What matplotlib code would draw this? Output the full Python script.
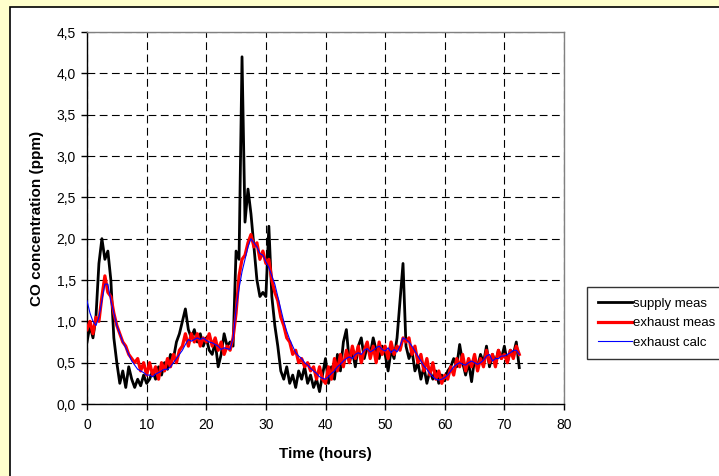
import numpy as np
import matplotlib
matplotlib.use("Agg")
import matplotlib.pyplot as plt
from matplotlib.patches import Rectangle
from matplotlib.ticker import FuncFormatter

plt.rcParams['font.family'] = ['Liberation Sans', 'DejaVu Sans']

# readings every half hour, starting at t = 0
step_h = 0.5
supply_meas = [
    0.75, 0.95, 0.80, 1.05, 1.70, 2.00, 1.75, 1.85, 1.50, 0.80,
    0.50, 0.25, 0.40, 0.20, 0.45, 0.30, 0.20, 0.30, 0.22, 0.35,
    0.25, 0.30, 0.40, 0.30, 0.45, 0.35, 0.50, 0.42, 0.60, 0.55,
    0.75, 0.85, 1.00, 1.15, 0.90, 0.80, 0.90, 0.75, 0.85, 0.70,
    0.80, 0.65, 0.60, 0.75, 0.45, 0.60, 0.85, 0.70, 0.75, 0.70,
    1.85, 1.75, 4.20, 2.20, 2.60, 2.30, 1.90, 1.50, 1.30, 1.35,
    1.30, 2.15, 1.30, 0.95, 0.70, 0.40, 0.30, 0.45, 0.25, 0.35,
    0.20, 0.40, 0.30, 0.45, 0.25, 0.35, 0.20, 0.30, 0.15, 0.35,
    0.55, 0.25, 0.45, 0.30, 0.60, 0.40, 0.75, 0.90, 0.50, 0.65,
    0.45, 0.70, 0.80, 0.55, 0.70, 0.60, 0.80, 0.65, 0.55, 0.70,
    0.60, 0.40, 0.65, 0.55, 0.80, 1.25, 1.70, 0.70, 0.55, 0.65,
    0.40, 0.50, 0.30, 0.45, 0.25, 0.40, 0.30, 0.40, 0.25, 0.35,
    0.28, 0.40, 0.45, 0.55, 0.45, 0.72, 0.50, 0.35, 0.50, 0.27,
    0.55, 0.45, 0.60, 0.50, 0.70, 0.45, 0.60, 0.50, 0.65, 0.55,
    0.70, 0.50, 0.65, 0.60, 0.75, 0.44,
]
exhaust_meas = [
    0.90, 1.00, 0.85, 1.05, 1.00, 1.30, 1.55, 1.35, 1.30, 1.10,
    0.95, 0.85, 0.75, 0.70, 0.60, 0.55, 0.50, 0.55, 0.40, 0.50,
    0.35, 0.50, 0.35, 0.45, 0.30, 0.50, 0.40, 0.55, 0.45, 0.60,
    0.50, 0.65, 0.70, 0.85, 0.70, 0.85, 0.75, 0.85, 0.70, 0.80,
    0.75, 0.85, 0.70, 0.80, 0.65, 0.75, 0.60, 0.70, 0.65, 0.80,
    1.10, 1.55, 1.75, 1.80, 1.95, 2.05, 1.90, 1.95, 1.75, 1.85,
    1.70, 1.75, 1.50, 1.35, 1.25, 1.05, 0.95, 0.80, 0.75, 0.60,
    0.65, 0.50, 0.55, 0.45, 0.50, 0.40, 0.45, 0.30, 0.45, 0.30,
    0.25, 0.45, 0.30, 0.55, 0.40, 0.60, 0.45, 0.65, 0.50, 0.70,
    0.55, 0.70, 0.50, 0.65, 0.75, 0.55, 0.70, 0.50, 0.75, 0.60,
    0.70, 0.55, 0.75, 0.60, 0.70, 0.65, 0.80, 0.75, 0.80, 0.60,
    0.70, 0.50, 0.60, 0.40, 0.55, 0.35, 0.50, 0.30, 0.40, 0.25,
    0.35, 0.30, 0.45, 0.35, 0.55, 0.45, 0.60, 0.40, 0.55, 0.45,
    0.60, 0.40, 0.55, 0.45, 0.65, 0.50, 0.60, 0.45, 0.65, 0.55,
    0.60, 0.50, 0.65, 0.55, 0.70, 0.60,
]
exhaust_calc = [
    1.25, 1.10, 1.00, 0.95, 1.05, 1.25, 1.45, 1.45, 1.25, 1.10,
    0.95, 0.85, 0.75, 0.68, 0.60, 0.52, 0.47, 0.42, 0.40, 0.38,
    0.35, 0.35, 0.33, 0.36, 0.38, 0.40, 0.42, 0.42, 0.45, 0.50,
    0.55, 0.60, 0.65, 0.72, 0.78, 0.76, 0.78, 0.80, 0.78, 0.80,
    0.77, 0.75, 0.74, 0.72, 0.70, 0.66, 0.68, 0.67, 0.66, 0.80,
    1.15, 1.40, 1.60, 1.75, 1.90, 2.00, 1.95, 1.90, 1.82, 1.80,
    1.72, 1.65, 1.55, 1.45, 1.30, 1.15, 1.00, 0.88, 0.78, 0.70,
    0.62, 0.58, 0.55, 0.50, 0.47, 0.43, 0.40, 0.37, 0.33, 0.31,
    0.30, 0.33, 0.37, 0.40, 0.45, 0.48, 0.52, 0.55, 0.57, 0.55,
    0.60, 0.62, 0.60, 0.65, 0.67, 0.63, 0.65, 0.68, 0.70, 0.66,
    0.64, 0.68, 0.62, 0.66, 0.63, 0.70, 0.80, 0.78, 0.75, 0.70,
    0.64, 0.58, 0.52, 0.46, 0.42, 0.37, 0.33, 0.30, 0.29, 0.30,
    0.32, 0.35, 0.40, 0.45, 0.48, 0.50, 0.48, 0.47, 0.50, 0.52,
    0.50, 0.48, 0.50, 0.53, 0.58, 0.60, 0.52, 0.55, 0.55, 0.58,
    0.58, 0.60, 0.62, 0.65, 0.65, 0.60,
]
x_ticks = [0, 10, 20, 30, 40, 50, 60, 70, 80]
y_ticks = [0.0, 0.5, 1.0, 1.5, 2.0, 2.5, 3.0, 3.5, 4.0, 4.5]

W, H = 719, 476
fig = plt.figure(figsize=(W / 100, H / 100), dpi=100)
fig.patch.set_facecolor('#FFFFCC')

# white chart panel with black border (runs off the right and bottom edges)
panel = Rectangle((10 / W, -0.05), 1.0, 1 - 7 / H + 0.05, transform=fig.transFigure,
                  facecolor='white', edgecolor='black', linewidth=1.2, zorder=-10)
fig.patches.append(panel)

ax = fig.add_axes([87 / W, (H - 404) / H, 477 / W, 372 / H])
ax.set_zorder(1)
ax.set_facecolor('white')

t_s = np.arange(len(supply_meas)) * step_h
t_e = np.arange(len(exhaust_meas)) * step_h
t_c = np.arange(len(exhaust_calc)) * step_h

ax.plot(t_s, supply_meas, color='black', lw=2.0, label='supply meas', zorder=3)
ax.plot(t_e, exhaust_meas, color='#FF0000', lw=2.3, label='exhaust meas', zorder=4)
ax.plot(t_c, exhaust_calc, color='#0000FF', lw=0.8, label='exhaust calc', zorder=5)

ax.set_xlim(0, 80)
ax.set_ylim(0, 4.5)
ax.set_xticks(x_ticks)
ax.set_yticks(y_ticks)
ax.yaxis.set_major_formatter(FuncFormatter(lambda v, p: f"{v:.1f}".replace('.', ',')))
ax.grid(True, color='black', lw=0.8, linestyle=(0, (7, 4)), zorder=1)
ax.set_axisbelow(True)

for s in ['top', 'right']:
    ax.spines[s].set_color('#808080')
    ax.spines[s].set_linewidth(1.0)
for s in ['left', 'bottom']:
    ax.spines[s].set_color('black')
    ax.spines[s].set_linewidth(1.0)
ax.tick_params(direction='out', length=4, width=1, labelsize=10)
ax.tick_params(axis='x', pad=6)
ax.tick_params(axis='y', pad=4)

ax.set_xlabel('Time (hours)', fontsize=11, fontweight='bold')
ax.set_ylabel('CO concentration (ppm)', fontsize=11, fontweight='bold')
ax.xaxis.set_label_coords(0.5, (404 - 447) / 372)
ax.yaxis.set_label_coords((44 - 87) / 477, 0.5)

leg = ax.legend(loc='upper left', bbox_to_anchor=(587 / W, 1 - 287 / H),
                bbox_transform=fig.transFigure, fontsize=9.5, frameon=True,
                fancybox=False, edgecolor='black', handlelength=2.6,
                handletextpad=0.1, borderpad=0.8, labelspacing=0.55,
                borderaxespad=0)
leg.get_frame().set_linewidth(1.0)

fig.savefig('out.png', dpi=100, facecolor=fig.get_facecolor())
